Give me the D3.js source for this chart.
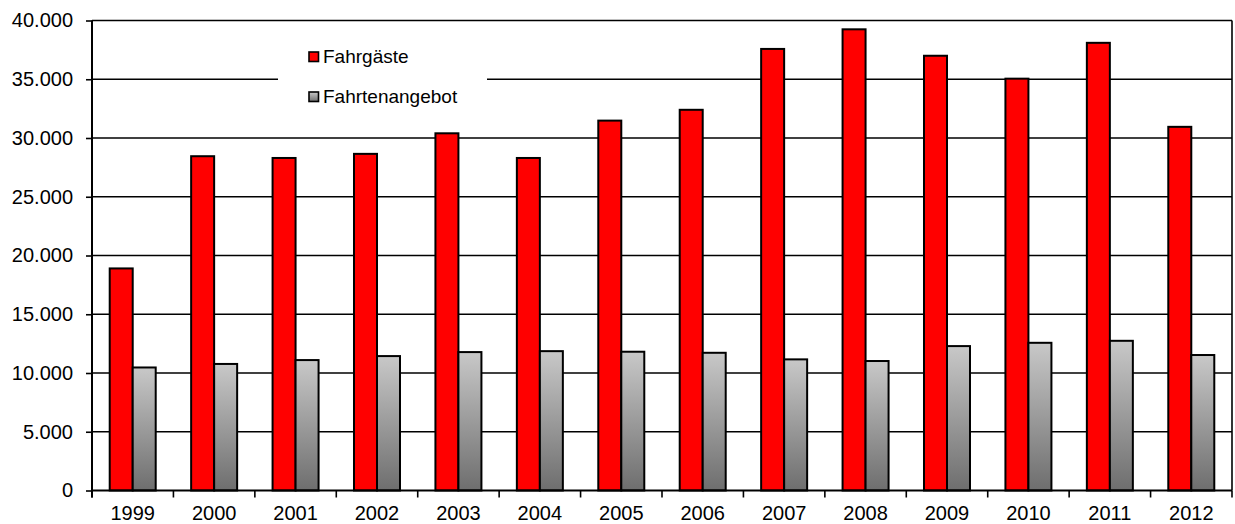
<!DOCTYPE html>
<html>
<head>
<meta charset="utf-8">
<script src="https://cdn.jsdelivr.net/npm/d3@7"></script>
<style>
  html, body { margin: 0; padding: 0; background: #fff; }
  svg { display: block; font-family: "Liberation Sans", Arial, sans-serif; }
</style>
</head>
<body>
<svg id="chart" width="1235" height="524"></svg>
<script>
// Years on the x axis
const years = ["1999","2000","2001","2002","2003","2004","2005","2006","2007","2008","2009","2010","2011","2012"];
// Passengers per year
const fahrgaeste = [18900, 28450, 28300, 28650, 30400, 28300, 31480, 32400, 37580, 39250, 37000, 35050, 38100, 30950];
// Service offering per year
const fahrtenangebot = [10470, 10770, 11100, 11440, 11780, 11860, 11810, 11720, 11160, 11020, 12290, 12570, 12740, 11530];
// Series names shown in the legend
const seriesNames = ["Fahrgäste", "Fahrtenangebot"];
// Y axis tick values
const yTicks = [0, 5000, 10000, 15000, 20000, 25000, 30000, 35000, 40000];

const svg = d3.select("#chart");
const plotLeft = 92, plotRight = 1232, plotTop = 20.5, plotBottom = 490.5;

const fmt = v => d3.format(",")(v).replace(/,/g, ".");

const x0 = d3.scaleBand().domain(years).range([plotLeft, plotRight]).padding(0);
const bw = x0.bandwidth();
const x1 = d3.scaleBand().domain(seriesNames).range([bw / 2 - 23, bw / 2 + 23]).padding(0);
const y = d3.scaleLinear().domain([0, 40000]).range([plotBottom, plotTop]);

// Gradient for the grey series
const defs = svg.append("defs");
const grad = defs.append("linearGradient").attr("id", "greyGrad")
  .attr("x1", 0).attr("y1", 0).attr("x2", 0).attr("y2", 1);
grad.append("stop").attr("offset", "0%").attr("stop-color", "#c8c8c8");
grad.append("stop").attr("offset", "100%").attr("stop-color", "#6e6e6e");

// Horizontal gridlines
svg.append("g").selectAll("line").data(yTicks.filter(d => d > 0)).join("line")
  .attr("x1", plotLeft).attr("x2", plotRight)
  .attr("y1", d => y(d)).attr("y2", d => y(d))
  .attr("stroke", "#000").attr("stroke-width", 1.6);

// Right border of the plot area
svg.append("line").attr("x1", plotRight).attr("x2", plotRight)
  .attr("y1", plotTop).attr("y2", plotBottom)
  .attr("stroke", "#000").attr("stroke-width", 1.6);

// Bars
const rows = years.map((yr, i) => ({ year: yr, values: [
  { key: seriesNames[0], v: fahrgaeste[i] },
  { key: seriesNames[1], v: fahrtenangebot[i] }
]}));

const groups = svg.append("g").selectAll("g").data(rows).join("g")
  .attr("transform", d => `translate(${x0(d.year)},0)`);

groups.selectAll("rect").data(d => d.values).join("rect")
  .attr("x", d => x1(d.key))
  .attr("width", x1.bandwidth())
  .attr("y", d => y(d.v))
  .attr("height", d => y(0) - y(d.v))
  .attr("fill", d => d.key === seriesNames[0] ? "#ff0000" : "url(#greyGrad)")
  .attr("stroke", "#000").attr("stroke-width", 2);

// Y axis
const yAxis = svg.append("g").attr("transform", `translate(${plotLeft},0)`)
  .call(d3.axisLeft(y).tickValues(yTicks).tickFormat(fmt).tickSizeInner(6).tickSizeOuter(0).tickPadding(13));
yAxis.select(".domain").attr("stroke", "#000").attr("stroke-width", 2)
  .attr("d", `M0,${plotTop}V${plotBottom + 7}`);
yAxis.selectAll(".tick line").attr("stroke", "#000").attr("stroke-width", 1.6);
yAxis.selectAll("text").attr("font-size", 20).attr("fill", "#000")
  .attr("font-family", "'Liberation Sans', Arial, sans-serif");

// X axis
const xAxis = svg.append("g").attr("transform", `translate(0,${plotBottom})`)
  .call(d3.axisBottom(x0).tickSize(0).tickPadding(13));
xAxis.select(".domain").attr("stroke", "#000").attr("stroke-width", 2)
  .attr("d", `M${plotLeft},0H${plotRight}`);
xAxis.selectAll("text").attr("font-size", 20).attr("fill", "#000")
  .attr("font-family", "'Liberation Sans', Arial, sans-serif")
  .attr("dy", "0.8em");
// Tick marks between categories
xAxis.append("g").selectAll("line")
  .data(years.map(d => x0(d)).concat([plotRight]))
  .join("line")
  .attr("x1", d => d).attr("x2", d => d)
  .attr("y1", 0).attr("y2", 7)
  .attr("stroke", "#000").attr("stroke-width", 1.6);

// Legend
const legend = svg.append("g");
legend.append("rect").attr("x", 278).attr("y", 38).attr("width", 209).attr("height", 82)
  .attr("fill", "#fff");
const legItems = legend.selectAll("g.item").data(seriesNames).join("g")
  .attr("class", "item")
  .attr("transform", (d, i) => `translate(309,${52 + i * 40})`);
legItems.append("rect").attr("width", 9.5).attr("height", 9.5)
  .attr("fill", (d, i) => i === 0 ? "#ff0000" : "url(#greyGrad)")
  .attr("stroke", "#000").attr("stroke-width", 1.6);
legItems.append("text").attr("x", 14).attr("y", 11)
  .attr("font-size", 19).attr("fill", "#000")
  .text(d => d);
</script>
</body>
</html>
